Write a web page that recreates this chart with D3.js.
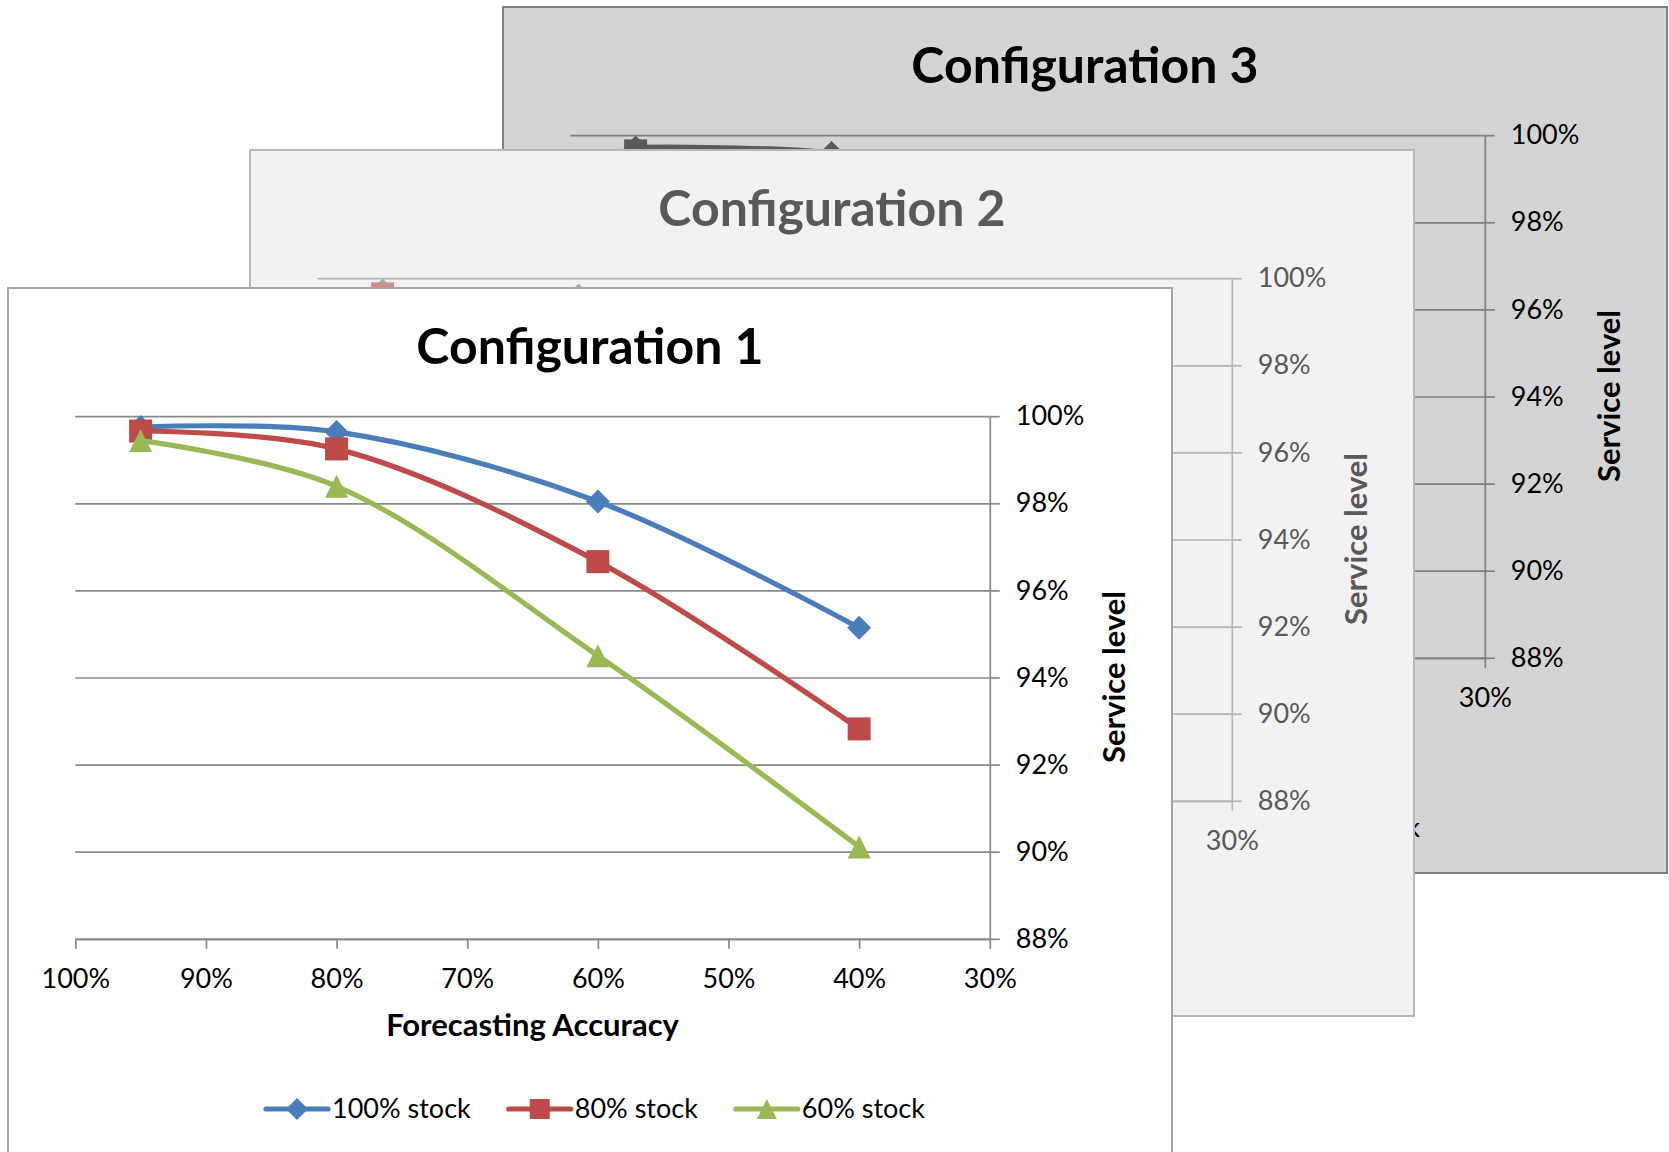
<!DOCTYPE html>
<html>
<head>
<meta charset="utf-8">
<script src="https://cdn.jsdelivr.net/npm/d3@7"></script>
<style>
  html, body { margin: 0; padding: 0; background: #ffffff; }
  svg { display: block; font-family: Lato, "Open Sans", sans-serif; }
</style>
</head>
<body>
<svg id="chart" width="1669" height="1152"></svg>
<script>
// Forecasting accuracy (%) at which service level was measured
const accuracy = [95, 80, 60, 40];
const seriesLabels = ["100% stock", "80% stock", "60% stock"];
const xTickValues = [100, 90, 80, 70, 60, 50, 40, 30];
const yTickValues = [88, 90, 92, 94, 96, 98, 100];
const panelTitles = ["Configuration 1", "Configuration 2", "Configuration 3"];

// Service level (%) per stock level
const config1Stock100 = [99.75, 99.64, 98.04, 95.14];
const config1Stock80  = [99.66, 99.25, 96.66, 92.82];
const config1Stock60  = [99.44, 98.39, 94.50, 90.11];

const config2Stock100 = [99.72, 99.60, 98.30, 95.80];
const config2Stock80  = [99.64, 99.35, 97.00, 93.60];
const config2Stock60  = [99.50, 98.65, 95.10, 91.00];

const config3Stock100 = [99.72, 99.59, 98.50, 96.30];
const config3Stock80  = [99.64, 99.40, 97.40, 94.20];
const config3Stock60  = [99.52, 98.80, 95.60, 92.00];

const svg = d3.select("#chart");

const PANEL_W = 1164, PANEL_H = 866;
const PLOT = { left: 67.3, right: 981.8, top: 128.2, bottom: 650.8 };

// marker shapes, centred on the data point
const markerPath = {
  diamond: s => `M0,${-s/2}L${s/2},0L0,${s/2}L${-s/2},0Z`,
  square:  s => `M${-s/2},${-s/2}h${s}v${s}h${-s}Z`,
  triangle: s => `M0,${-s/2}L${s/2},${s/2}L${-s/2},${s/2}Z`
};
const markerKinds = ["diamond", "square", "triangle"];

function drawPanel(opts) {
  const g = svg.append("g").attr("transform", `translate(${opts.x},${opts.y})`);

  g.append("rect")
    .attr("x", 0).attr("y", 0)
    .attr("width", PANEL_W).attr("height", PANEL_H)
    .attr("fill", opts.bg)
    .attr("stroke", opts.border)
    .attr("stroke-width", 2);

  g.append("text")
    .attr("x", PANEL_W / 2).attr("y", 76)
    .attr("text-anchor", "middle")
    .attr("font-size", 50).attr("font-weight", 700)
    .attr("fill", opts.titleColor)
    .text(opts.title);

  const x = d3.scaleLinear().domain([100, 30]).range([PLOT.left, PLOT.right]);
  const y = d3.scaleLinear().domain([88, 100]).range([PLOT.bottom, PLOT.top]);

  // horizontal gridlines
  const grid = g.append("g")
    .attr("transform", `translate(${x(100)},0)`)
    .call(d3.axisLeft(y).tickValues(yTickValues).tickSize(-(x(30) - x(100))).tickFormat(""));
  grid.select(".domain").remove();
  grid.selectAll("line").attr("stroke", opts.grid).attr("stroke-width", 1.7);

  // value axis on the right
  const yAxis = g.append("g")
    .attr("transform", `translate(${x(30)},0)`)
    .call(d3.axisRight(y).tickValues(yTickValues).tickSize(10).tickPadding(16)
      .tickSizeOuter(0).tickFormat(d => d + "%"));
  yAxis.select(".domain").attr("stroke", opts.grid).attr("stroke-width", 1.7);
  yAxis.selectAll("line").attr("stroke", opts.grid).attr("stroke-width", 1.7);
  yAxis.selectAll("text").attr("font-size", 27).attr("font-family", "Lato").attr("fill", opts.textColor);

  // category axis along the bottom
  const xAxis = g.append("g")
    .attr("transform", `translate(0,${y(88)})`)
    .call(d3.axisBottom(x).tickValues(xTickValues).tickSize(10).tickPadding(20)
      .tickSizeOuter(0).tickFormat(d => d + "%"));
  xAxis.select(".domain").attr("stroke", opts.grid).attr("stroke-width", 1.7);
  xAxis.selectAll("line").attr("stroke", opts.grid).attr("stroke-width", 1.7);
  xAxis.selectAll("text").attr("font-size", 27).attr("font-family", "Lato").attr("fill", opts.textColor);

  g.append("text")
    .attr("x", (PLOT.left + PLOT.right) / 2).attr("y", 748)
    .attr("text-anchor", "middle")
    .attr("font-size", 31).attr("font-weight", 700)
    .attr("fill", opts.axisTitleColor)
    .text("Forecasting Accuracy");

  g.append("text")
    .attr("transform", `translate(1117,389) rotate(-90)`)
    .attr("text-anchor", "middle")
    .attr("font-size", 31).attr("font-weight", 700)
    .attr("fill", opts.axisTitleColor)
    .text("Service level");

  const line = d3.line()
    .x((d, i) => x(accuracy[i]))
    .y(d => y(d))
    .curve(d3.curveCatmullRom.alpha(0.5));

  opts.series.forEach((values, k) => {
    const col = opts.colors[k];
    g.append("path")
      .datum(values)
      .attr("d", line)
      .attr("fill", "none")
      .attr("stroke", col)
      .attr("stroke-width", 5.2)
      .attr("stroke-linejoin", "round")
      .attr("stroke-linecap", "round");
    const size = markerKinds[k] === "diamond" ? 24 : 23;
    g.selectAll(null)
      .data(values)
      .join("path")
      .attr("transform", (d, i) => `translate(${x(accuracy[i])},${y(d)})`)
      .attr("d", markerPath[markerKinds[k]](size))
      .attr("fill", col);
  });

  // legend
  const legend = g.append("g").attr("transform", "translate(0,821)");
  let cursor = 258;
  seriesLabels.forEach((label, k) => {
    const col = opts.colors[k];
    legend.append("line")
      .attr("x1", cursor).attr("x2", cursor + 62)
      .attr("y1", 0).attr("y2", 0)
      .attr("stroke", col).attr("stroke-width", 5.2)
      .attr("stroke-linecap", "round");
    legend.append("path")
      .attr("transform", `translate(${cursor + 31},0)`)
      .attr("d", markerPath[markerKinds[k]](markerKinds[k] === "diamond" ? 22 : 20))
      .attr("fill", col);
    const t = legend.append("text")
      .attr("x", cursor + 66).attr("y", 0).attr("dy", "0.34em")
      .attr("font-size", 27)
      .attr("fill", opts.textColor)
      .text(label);
    cursor += 66 + t.node().getComputedTextLength() + 38;
  });

  return g;
}

// back to front
const panelBack = drawPanel({
  x: 503, y: 7,
  title: panelTitles[2],
  bg: "#d4d4d4", border: "#7f7f7f", grid: "#7f7f7f",
  titleColor: "#000000", textColor: "#000000", axisTitleColor: "#000000",
  colors: ["#5a5a5a", "#595959", "#5c5c5c"],
  series: [config3Stock100, config3Stock80, config3Stock60]
});

const panelMiddle = drawPanel({
  x: 250, y: 150,
  title: panelTitles[1],
  bg: "#f2f2f2", border: "#b8b8b8", grid: "#b5b5b5",
  titleColor: "#595959", textColor: "#595959", axisTitleColor: "#595959",
  colors: ["#8dacd1", "#d38e8c", "#bcd199"],
  series: [config2Stock100, config2Stock80, config2Stock60]
});

const panelFront = drawPanel({
  x: 8, y: 288,
  title: panelTitles[0],
  bg: "#ffffff", border: "#a6a6a6", grid: "#888888",
  titleColor: "#000000", textColor: "#000000", axisTitleColor: "#000000",
  colors: ["#4a7ebb", "#be4b48", "#98b954"],
  series: [config1Stock100, config1Stock80, config1Stock60]
});

// Labels lying entirely under a panel in front of them are never seen; drop them.
function coverRect(g) { return g.select("rect").node().getBoundingClientRect(); }
function inside(a, b) {
  return a.left >= b.left && a.right <= b.right && a.top >= b.top && a.bottom <= b.bottom;
}
[[panelBack, [panelMiddle, panelFront]], [panelMiddle, [panelFront]]].forEach(([g, covers]) => {
  const rects = covers.map(coverRect);
  g.selectAll("text").each(function () {
    const r = this.getBoundingClientRect();
    if (rects.some(c => inside(r, c))) d3.select(this).remove();
  });
});
</script>
</body>
</html>
